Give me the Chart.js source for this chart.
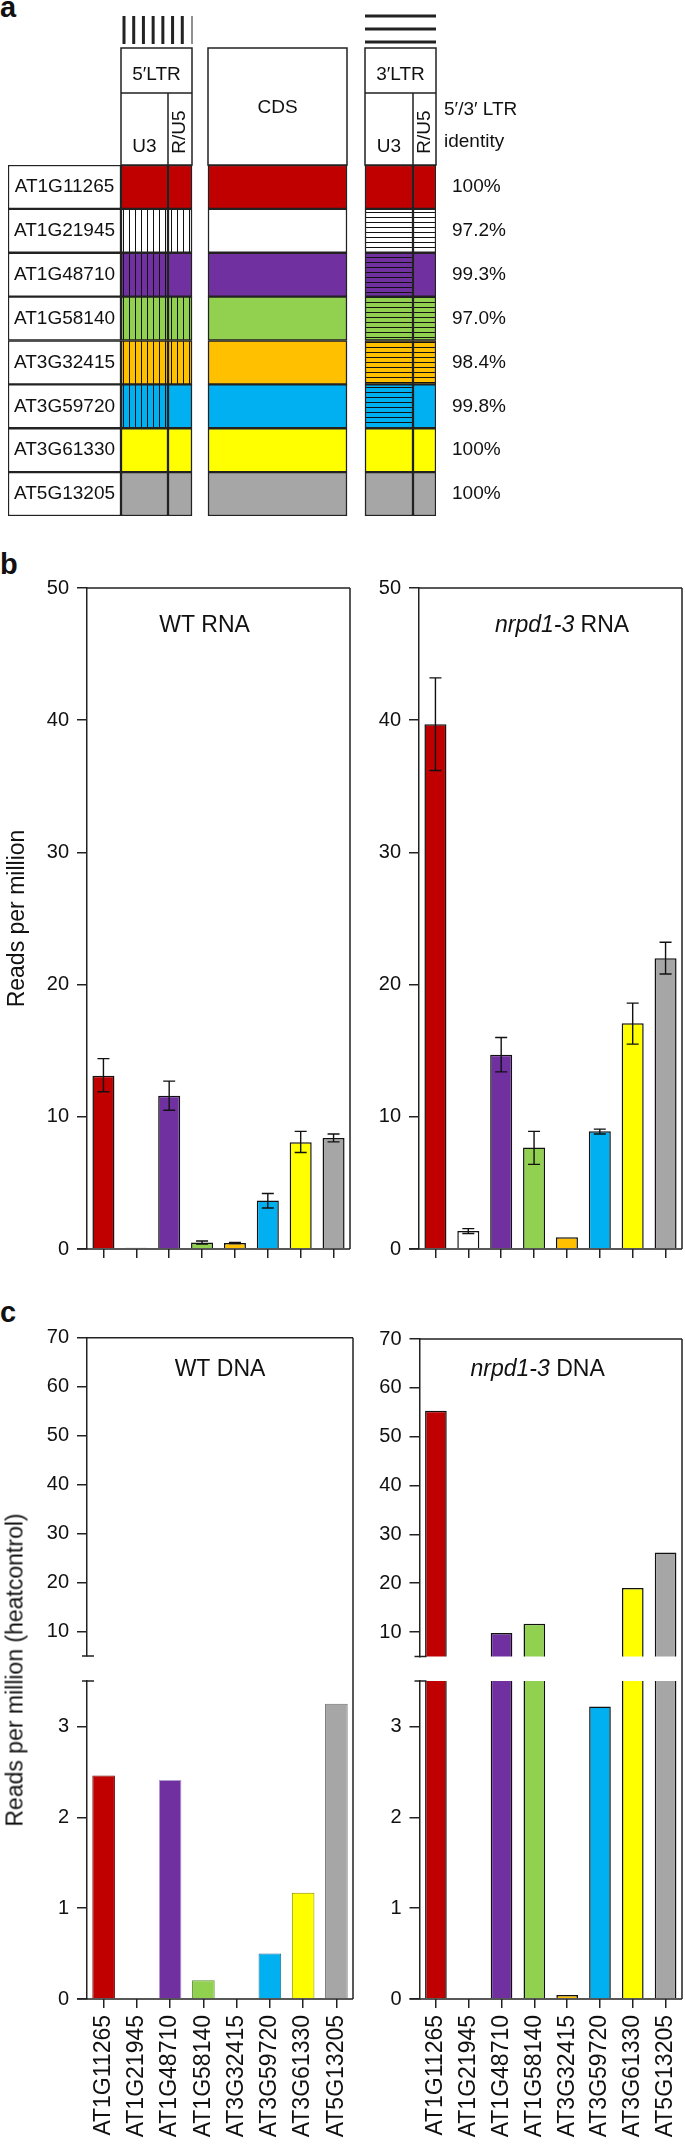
<!DOCTYPE html>
<html lang="en">
<head>
<meta charset="UTF-8">
<title>LTR retrotransposon reads</title>
<script src="https://cdn.jsdelivr.net/npm/chart.js/dist/chart.umd.min.js"></script>
<style>
  body { margin: 0; background: #fff; }
  #fig { position: relative; width: 685px; height: 2147px; font-family: 'Liberation Sans', Arial, sans-serif; color: #111; }
  #fig canvas { position: absolute; }
  .tag { position: absolute; font-weight: bold; font-size: 29px; line-height: 1; }
  .ytitle { position: absolute; font-size: 23px; white-space: nowrap; transform: translate(-50%, -50%) rotate(-90deg); }
</style>
</head>
<body>
<div id="fig">
  <div class="tag" style="left:0;top:-7px">a</div>
  <div class="tag" style="left:0;top:550px">b</div>
  <div class="tag" style="left:0;top:1298px">c</div>
  <canvas id="ltr" width="685" height="530" style="left:0;top:0"></canvas>
  <canvas id="wtRna" width="355" height="700" style="left:0;top:570px"></canvas>
  <canvas id="mutRna" width="330" height="700" style="left:355px;top:570px"></canvas>
  <canvas id="wtDnaTop" width="358" height="348" style="left:0;top:1320px"></canvas>
  <canvas id="wtDnaLow" width="358" height="479" style="left:0;top:1668px"></canvas>
  <canvas id="mutDnaTop" width="327" height="348" style="left:358px;top:1320px"></canvas>
  <canvas id="mutDnaLow" width="327" height="479" style="left:358px;top:1668px"></canvas>
  <div class="ytitle" style="left:15px;top:1670px">Reads per million (heatcontrol)</div>
</div>

<script>
const FONT = "'Liberation Sans', Arial, sans-serif";
Chart.defaults.font.family = FONT;
Chart.defaults.color = '#111';

// ---- data ----
const teNames = ['AT1G11265', 'AT1G21945', 'AT1G48710', 'AT1G58140', 'AT3G32415', 'AT3G59720', 'AT3G61330', 'AT5G13205'];
const teColors = ['#C00000', '#FFFFFF', '#7030A0', '#92D050', '#FFC000', '#00B0F0', '#FFFF00', '#A6A6A6'];
const ltrIdentity = ['100%', '97.2%', '99.3%', '97.0%', '98.4%', '99.8%', '100%', '100%'];
// 1 = region differs between 5' and 3' LTR (hatched)
const diffU3 = [0, 1, 1, 1, 1, 1, 0, 0];
const diffRU5 = [0, 1, 0, 1, 1, 0, 0, 0];

const wtRna = [13.1, 0.1, 11.6, 0.5, 0.45, 3.66, 8.08, 8.4];
const wtRnaLow = [11.9, 0.1, 10.5, 0.38, 0.42, 3.1, 7.3, 8.1];
const wtRnaHigh = [14.4, 0.1, 12.7, 0.6, 0.5, 4.2, 8.9, 8.7];
const mutRna = [39.7, 1.36, 14.7, 7.68, 0.89, 8.9, 17.07, 22.0];
const mutRnaLow = [36.2, 1.17, 13.4, 6.4, 0.89, 8.7, 15.5, 20.8];
const mutRnaHigh = [43.2, 1.54, 16.0, 8.9, 0.89, 9.07, 18.6, 23.2];
const wtDna = [2.46, 0, 2.41, 0.205, 0, 0.5, 1.17, 3.25];
const mutDna = [55.3, 0, 9.8, 11.7, 0.044, 3.22, 19.0, 26.3];

const rnaTicks = [0, 10, 20, 30, 40, 50];
const dnaTopTicks = [10, 20, 30, 40, 50, 60, 70];
const dnaLowTicks = [0, 1, 2, 3];

// ---- panel a: LTR diagram as floating horizontal bars ----
// diagram units along x
const parts = {
  name: [0, 113], u3Left: [113, 160], ru5Left: [160, 184],
  cds: [200, 339], u3Right: [357, 405], ru5Right: [405, 428]
};

function hatch(color, vertical) {
  const c = document.createElement('canvas');
  c.width = vertical ? 6 : 8;
  c.height = vertical ? 8 : 5;
  const g = c.getContext('2d');
  g.fillStyle = color;
  g.fillRect(0, 0, c.width, c.height);
  g.fillStyle = '#111';
  if (vertical) g.fillRect(3, 0, 1, c.height);
  else g.fillRect(0, 2, c.width, 1);
  return g.createPattern(c, 'repeat');
}

const segment = (range, colors) => ({
  data: teNames.map(() => range),
  backgroundColor: colors,
  borderColor: '#222',
  borderWidth: 1.5,
  borderSkipped: false,
  grouped: false,
  barPercentage: 1,
  categoryPercentage: 1
});

const ltrHeader = {
  id: 'ltrHeader',
  afterDraw(chart) {
    const { ctx, chartArea: { top, right }, scales: { x, y } } = chart;
    const px = v => x.getPixelForValue(v);
    const boxTop = top - 117, mid = top - 72;
    ctx.save();
    ctx.strokeStyle = '#222';
    ctx.lineWidth = 1.5;
    [[parts.u3Left, parts.ru5Left], [parts.u3Right, parts.ru5Right]].forEach(([u3, ru5]) => {
      ctx.strokeRect(px(u3[0]), boxTop, px(ru5[1]) - px(u3[0]), top - boxTop);
      ctx.beginPath();
      ctx.moveTo(px(u3[0]), mid); ctx.lineTo(px(ru5[1]), mid);
      ctx.moveTo(px(ru5[0]), mid); ctx.lineTo(px(ru5[0]), top);
      ctx.stroke();
    });
    ctx.strokeRect(px(parts.cds[0]), boxTop, px(parts.cds[1]) - px(parts.cds[0]), top - boxTop);

    // legend strokes above the LTR boxes
    ctx.lineWidth = 3;
    ctx.beginPath();
    const x0 = px(parts.u3Left[0] + 3), x1 = px(parts.ru5Left[1]);
    for (let k = 0; k < 7; k++) {
      const xx = x0 + k * (x1 - x0) / 7;
      ctx.moveTo(xx, top - 149); ctx.lineTo(xx, top - 121);
    }
    [149, 136, 123].forEach(d => {
      ctx.moveTo(px(parts.u3Right[0]), top - d); ctx.lineTo(px(parts.ru5Right[1]), top - d);
    });
    ctx.stroke();
    ctx.lineWidth = 1;
    ctx.beginPath();
    ctx.moveTo(x1, top - 149); ctx.lineTo(x1, top - 121);
    ctx.stroke();

    ctx.fillStyle = '#111';
    ctx.font = `19px ${FONT}`;
    ctx.textAlign = 'center';
    ctx.textBaseline = 'middle';
    const cx = r => px((r[0] + r[1]) / 2);
    ctx.fillText('5\u2032LTR', px((parts.u3Left[0] + parts.ru5Left[1]) / 2), top - 90);
    ctx.fillText('3\u2032LTR', px((parts.u3Right[0] + parts.ru5Right[1]) / 2), top - 90);
    ctx.fillText('U3', cx(parts.u3Left), top - 18);
    ctx.fillText('U3', cx(parts.u3Right), top - 18);
    ctx.fillText('CDS', cx(parts.cds), top - 57);
    [parts.ru5Left, parts.ru5Right].forEach(r => {
      ctx.save();
      ctx.translate(cx(r), top - 33);
      ctx.rotate(-Math.PI / 2);
      ctx.fillText('R/U5', 0, 0);
      ctx.restore();
    });
    teNames.forEach((n, i) => ctx.fillText(n, cx(parts.name), y.getPixelForValue(i)));
    ctx.textAlign = 'left';
    ctx.fillText('5\u2032/3\u2032 LTR', right + 8, top - 55);
    ctx.fillText('identity', right + 8, top - 23);
    ctx.restore();
  }
};

new Chart(document.getElementById('ltr'), {
  type: 'bar',
  data: {
    labels: teNames,
    datasets: [
      segment(parts.name, '#FFFFFF'),
      segment(parts.u3Left, teColors.map((c, i) => diffU3[i] ? hatch(c, true) : c)),
      segment(parts.ru5Left, teColors.map((c, i) => diffRU5[i] ? hatch(c, true) : c)),
      segment(parts.cds, teColors),
      segment(parts.u3Right, teColors.map((c, i) => diffU3[i] ? hatch(c, false) : c)),
      segment(parts.ru5Right, teColors.map((c, i) => diffRU5[i] ? hatch(c, false) : c))
    ]
  },
  options: {
    indexAxis: 'y',
    responsive: false,
    animation: false,
    layout: { padding: { top: 165, bottom: 14, left: 8, right: 0 } },
    plugins: { legend: { display: false }, tooltip: { enabled: false } },
    scales: {
      x: { type: 'linear', min: 0, max: 428, display: false },
      y: { display: false },
      y2: {
        type: 'category',
        position: 'right',
        labels: ltrIdentity,
        offset: true,
        grid: { display: false },
        border: { display: false },
        ticks: { font: { size: 19 }, color: '#111', padding: 8 },
        afterFit: s => { s.width = 249; s.paddingTop = 0; s.paddingBottom = 0; }
      }
    }
  },
  plugins: [ltrHeader]
});

// ---- panels b and c ----
// box lines around each plot, per canvas
const boxLines = {};
const frame = {
  id: 'boxFrame',
  afterDraw(chart) {
    const f = boxLines[chart.canvas.id] || {};
    const { ctx } = chart;
    const { left, right, top, bottom } = chart.chartArea;
    ctx.save();
    ctx.strokeStyle = '#222';
    ctx.lineWidth = 1.5;
    ctx.beginPath();
    if (f.lid) { ctx.moveTo(left, top); ctx.lineTo(right, top); }
    if (f.base) { ctx.moveTo(left - 10, bottom); ctx.lineTo(right, bottom); }
    ctx.moveTo(right, f.openTop ? 0 : top);
    ctx.lineTo(right, f.openBottom ? chart.height : bottom);
    if (f.capTop) { ctx.moveTo(left - 5, top); ctx.lineTo(left + 7, top); }
    if (f.capBottom) { ctx.moveTo(left - 5, bottom); ctx.lineTo(left + 7, bottom); }
    ctx.stroke();
    ctx.restore();
  }
};

const errorBars = {
  id: 'errorBars',
  afterDatasetsDraw(chart) {
    const ds = chart.data.datasets[0];
    if (!ds.errLow) return;
    const { ctx, scales: { y } } = chart;
    ctx.save();
    ctx.strokeStyle = '#111';
    ctx.lineWidth = 1.4;
    chart.getDatasetMeta(0).data.forEach((bar, i) => {
      if (ds.errHigh[i] <= ds.errLow[i]) return;
      const lo = y.getPixelForValue(ds.errLow[i]), hi = y.getPixelForValue(ds.errHigh[i]);
      ctx.beginPath();
      ctx.moveTo(bar.x, lo); ctx.lineTo(bar.x, hi);
      ctx.moveTo(bar.x - 6, lo); ctx.lineTo(bar.x + 6, lo);
      ctx.moveTo(bar.x - 6, hi); ctx.lineTo(bar.x + 6, hi);
      ctx.stroke();
    });
    ctx.restore();
  }
};

const panelTitle = {
  id: 'panelTitle',
  afterDraw(chart, args, o) {
    if (!o.text) return;
    const { ctx, chartArea: a } = chart;
    const it = `italic 23px ${FONT}`, rg = `23px ${FONT}`;
    ctx.save();
    ctx.fillStyle = '#111';
    ctx.textBaseline = 'middle';
    ctx.textAlign = 'left';
    ctx.font = it;
    const w1 = o.italic ? ctx.measureText(o.italic).width : 0;
    ctx.font = rg;
    const w2 = ctx.measureText(o.text).width;
    const x0 = a.left + o.x * (a.right - a.left) - (w1 + w2) / 2;
    const yy = a.top + o.dy;
    if (o.italic) { ctx.font = it; ctx.fillText(o.italic, x0, yy); }
    ctx.font = rg;
    ctx.fillText(o.text, x0 + w1, yy);
    ctx.restore();
  }
};

function barChart(id, c) {
  boxLines[id] = c.frame;
  return new Chart(document.getElementById(id), {
    type: 'bar',
    data: {
      labels: teNames,
      datasets: [{
        data: c.values,
        errLow: c.errLow,
        errHigh: c.errHigh,
        backgroundColor: teColors,
        borderColor: c.borders,
        borderWidth: c.borderWidth,
        barPercentage: c.barPct,
        categoryPercentage: 1,
        clip: 0
      }]
    },
    options: {
      responsive: false,
      animation: false,
      layout: { padding: c.padding },
      plugins: {
        legend: { display: false },
        tooltip: { enabled: false },
        panelTitle: c.title || {}
      },
      scales: {
        x: {
          display: c.xHeight > 0,
          ticks: {
            display: !!c.names,
            font: { size: 23 },
            color: '#111',
            minRotation: 90,
            maxRotation: 90,
            padding: 7
          },
          grid: { drawOnChartArea: false, offset: false, tickLength: 9, color: '#222', lineWidth: 1.5 },
          border: { display: false },
          afterFit: s => { s.height = c.xHeight; s.paddingLeft = 0; s.paddingRight = 0; }
        },
        y: {
          min: c.min,
          max: c.max,
          afterBuildTicks: s => { s.ticks = c.ticks.map(v => ({ value: v })); },
          ticks: { font: { size: 20 }, color: '#111', padding: 8 },
          grid: { drawOnChartArea: false, tickLength: 10, color: '#222', lineWidth: 1.5 },
          border: { color: '#222', width: 1.5 },
          title: c.yTitle ? { display: true, text: c.yTitle, font: { size: 23 }, color: '#111', padding: { top: 4, bottom: 4 } } : { display: false },
          afterFit: s => { s.width = c.yWidth; s.paddingTop = 0; s.paddingBottom = 0; }
        }
      }
    },
    plugins: [frame, errorBars, panelTitle]
  });
}

const blackEdges = teNames.map(() => '#111');
const softEdges = ['#6a0000', '#888888', '#b49ad2', '#5c8a32', '#a07800', '#1a6f90', '#8c8c00', '#6e6e6e'];

barChart('wtRna', {
  values: wtRna, errLow: wtRnaLow, errHigh: wtRnaHigh,
  borders: blackEdges, borderWidth: 1.5, barPct: 0.67,
  min: 0, max: 50, ticks: rnaTicks,
  padding: { top: 18, right: 5, left: 0, bottom: 0 },
  yWidth: 87, xHeight: 21, yTitle: 'Reads per million',
  frame: { lid: true, base: true },
  title: { text: 'WT RNA', x: 0.447, dy: 38 }
});

barChart('mutRna', {
  values: mutRna, errLow: mutRnaLow, errHigh: mutRnaHigh,
  borders: blackEdges, borderWidth: 1.5, barPct: 0.67,
  min: 0, max: 50, ticks: rnaTicks,
  padding: { top: 18, right: 3, left: 0, bottom: 0 },
  yWidth: 64, xHeight: 21,
  frame: { lid: true, base: true },
  title: { italic: 'nrpd1-3', text: ' RNA', x: 0.544, dy: 38 }
});

barChart('wtDnaTop', {
  values: wtDna, borders: softEdges, borderWidth: 1, barPct: 0.68,
  min: 5, max: 70, ticks: dnaTopTicks,
  padding: { top: 17.7, right: 5, left: 0, bottom: 12 },
  yWidth: 87, xHeight: 0,
  frame: { lid: true, openBottom: true, capBottom: true },
  title: { text: 'WT DNA', x: 0.5, dy: 32 }
});

barChart('wtDnaLow', {
  values: wtDna, borders: softEdges, borderWidth: 1, barPct: 0.68,
  min: 0, max: 3.5, ticks: dnaLowTicks,
  padding: { top: 13, right: 5, left: 0, bottom: 0 },
  yWidth: 87, xHeight: 148, names: true,
  frame: { base: true, openTop: true, capTop: true }
});

barChart('mutDnaTop', {
  values: mutDna, borders: blackEdges, borderWidth: 1.5, barPct: 0.66,
  min: 5, max: 70, ticks: dnaTopTicks,
  padding: { top: 19, right: 3, left: 0, bottom: 11.5 },
  yWidth: 61.5, xHeight: 0,
  frame: { lid: true, openBottom: true, capBottom: true },
  title: { italic: 'nrpd1-3', text: ' DNA', x: 0.45, dy: 31 }
});

barChart('mutDnaLow', {
  values: mutDna, borders: blackEdges, borderWidth: 1.5, barPct: 0.66,
  min: 0, max: 3.5, ticks: dnaLowTicks,
  padding: { top: 13, right: 3, left: 0, bottom: 0 },
  yWidth: 61.5, xHeight: 148, names: true,
  frame: { base: true, openTop: true, capTop: true }
});
</script>
</body>
</html>
